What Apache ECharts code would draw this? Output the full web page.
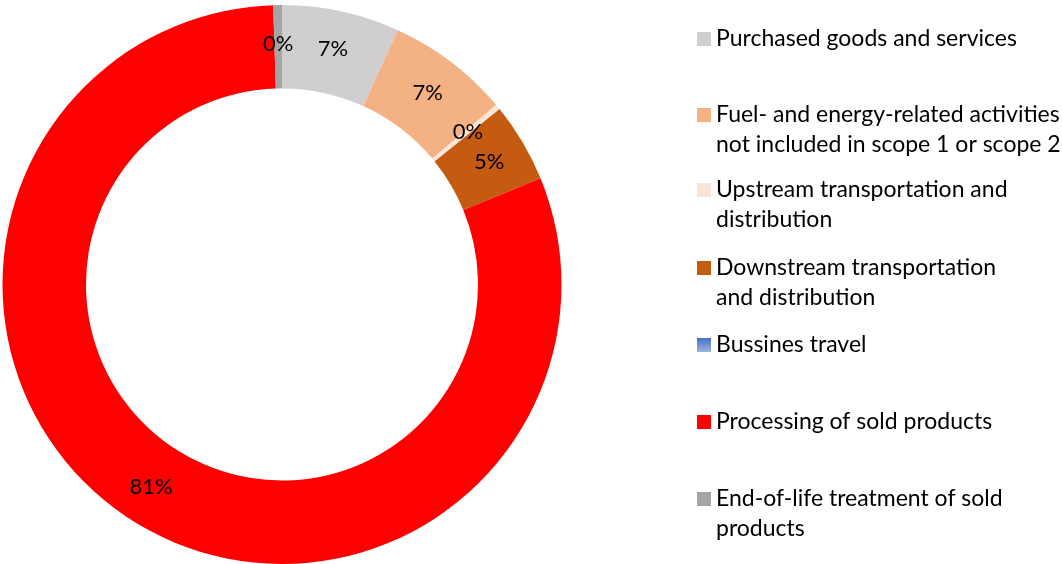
<!DOCTYPE html>
<html>
<head>
  <meta charset="utf-8">
  <title>Scope 3 emissions</title>
  <script src="https://cdn.jsdelivr.net/npm/echarts@6/dist/echarts.min.js"></script>
  <style>
    html, body { margin: 0; padding: 0; background: #fff; }
    #main { width: 1062px; height: 564px; }
  </style>
</head>
<body>
  <div id="main"></div>
  <script>
    // categories and their shares (percent)
    var categories = [
      'Purchased goods and services',
      'Fuel- and energy-related activities not included in scope 1 or scope 2',
      'Upstream transportation and distribution',
      'Downstream transportation and distribution',
      'Bussines travel',
      'Processing of sold products',
      'End-of-life treatment of sold products'
    ];
    var values = [6.8, 7.1, 0.3, 4.6, 0, 80.7, 0.5];
    // legend text as shown (line breaks)
    var legendLabels = [
      'Purchased goods and services',
      'Fuel- and energy-related activities\nnot included in scope 1 or scope 2',
      'Upstream transportation and\ndistribution',
      'Downstream transportation\nand distribution',
      'Bussines travel',
      'Processing of sold products',
      'End-of-life treatment of sold\nproducts'
    ];
    var legendCenters = [39, 115, 190, 268, 345, 422, 499];

    var colors = [
      '#D0CECE',
      '#F4B183',
      '#FBE5D6',
      '#C55A11',
      new echarts.graphic.LinearGradient(0, 0, 0, 1, [
        { offset: 0, color: '#4472C4' },
        { offset: 1, color: '#9DB5E0' }
      ]),
      '#FF0000',
      '#A5A5A5'
    ];

    var FONT = 'Lato';
    var LH = 30;

    var chart = echarts.init(document.getElementById('main'));

    var pieData = categories.map(function (name, i) {
      var d = { name: name, value: values[i], itemStyle: { color: colors[i] } };
      if (values[i] === 0) d.label = { show: false };
      return d;
    });

    // one legend per item; two-line labels get a blank line on top so the
    // marker sits next to the first line, as in the original
    var legends = categories.map(function (name, i) {
      var lines = legendLabels[i].split('\n').length;
      var text = lines > 1 ? ' \n' + legendLabels[i] : legendLabels[i];
      var blockH = (lines > 1 ? lines + 1 : 1) * LH;
      return {
        data: [name],
        left: 697,
        top: legendCenters[i] - blockH / 2,
        padding: 0,
        icon: 'rect',
        itemWidth: 14,
        itemHeight: 14,
        selectedMode: false,
        formatter: function () { return text; },
        textStyle: {
          fontFamily: FONT,
          fontSize: 23,
          color: '#000',
          lineHeight: LH
        }
      };
    });

    var option = {
      animation: false,
      legend: legends,
      series: [
        {
          type: 'pie',
          center: [282, 284.5],
          radius: [196, 279.5],
          startAngle: 90,
          clockwise: true,
          percentPrecision: 0,
          label: {
            show: true,
            position: 'inside',
            formatter: '{d}%',
            fontFamily: FONT,
            fontSize: 22,
            color: '#000'
          },
          labelLine: { show: false },
          itemStyle: { borderWidth: 0 },
          emphasis: { disabled: true },
          data: pieData
        }
      ]
    };

    chart.setOption(option);
  </script>
</body>
</html>
